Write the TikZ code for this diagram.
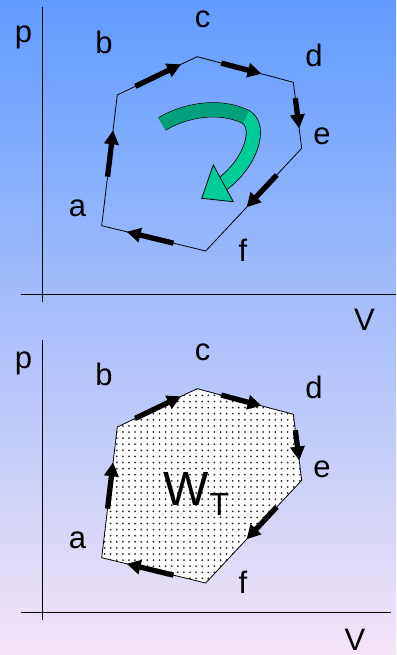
\documentclass[tikz,border=0pt]{standalone}
\usepackage{fontspec}
\setmainfont{Liberation Sans}
\usetikzlibrary{arrows.meta,calc}
\definecolor{skytop}{RGB}{96,156,255}
\definecolor{skymid}{RGB}{155,200,247}
\definecolor{skybot}{RGB}{244,228,246}
\definecolor{ribbon}{RGB}{0,204,153}
\definecolor{ribbondark}{RGB}{0,160,122}
\definecolor{dotgrey}{RGB}{40,40,40}
\tikzset{
  lbl/.style={anchor=base, inner sep=0pt, font=\fontsize{31}{31}\selectfont},
  axis/.style={line width=1.2pt},
  cycleline/.style={line width=0.8pt, line join=miter},
  flow/.style={line width=5.3pt, -{Triangle[length=14pt,width=14pt]}}
}

\begin{document}
\begin{tikzpicture}[x=1pt,y=-1pt]
  \useasboundingbox (0,0) rectangle (396,655);
  \shade[top color=skytop, middle color=skymid, bottom color=skybot]
    (0,0) rectangle (396,655);
  \foreach \pre/\dy in {u/0, l/332} {
    \begin{scope}[shift={(0,\dy)}]
      \coordinate (\pre-a) at (101.7,225.7);
      \coordinate (\pre-b) at (117.3,95);
      \coordinate (\pre-c1) at (181.7,64);
      \coordinate (\pre-c2) at (197.3,56.7);
      \coordinate (\pre-d) at (293.3,82.3);
      \coordinate (\pre-e) at (301.7,148.3);
      \coordinate (\pre-f) at (205.7,251);
    \end{scope}
  }
  \begin{scope}
    \clip (l-a) -- (l-b) -- (l-c1) -- (l-c2) -- (l-d) -- (l-e) -- (l-f) -- cycle;
    \fill[white] (90,380) rectangle (310,590);
    \foreach \x in {98.5,104.6,...,306}
      \foreach \y in {389.3,395.4,...,586}
        \fill[dotgrey] (\x,\y) circle (1.0);
  \end{scope}
  \foreach \pre/\dy/\ay/\atop/\abot/\ax/\py/\vx/\vy in {%
    u/0/294.3/6.7/302/396/43/364.5/330,
    l/332/612.3/340/620/391/368/355/650.5} {
    \draw[axis] (42.3,\atop) -- (42.3,\abot);
    \draw[axis] (21,\ay) -- (\ax,\ay);
    \node[lbl] (\pre-p) at (23.5,\py) {p};
    \node[lbl] (\pre-V) at (\vx,\vy) {V};
    \draw[cycleline] (\pre-a) -- (\pre-b) -- (\pre-c1) -- (\pre-c2) -- (\pre-d)
      -- (\pre-e) -- (\pre-f) -- cycle;
    \foreach \s/\t/\from/\to in {a/b/0.375/0.73, b/c1/0.28/0.99, c2/d/0.25/0.67,
      d/e/0.24/0.70, e/f/0.26/0.575, f/a/0.31/0.76}
      \draw[flow] ($(\pre-\s)!\from!(\pre-\t)$) -- ($(\pre-\s)!\to!(\pre-\t)$);
    \begin{scope}[shift={(0,\dy)}]
      \node[lbl] (\pre-la) at (77.5,216) {a};
      \node[lbl] (\pre-lb) at (104,53.3) {b};
      \node[lbl] (\pre-lc) at (202.5,28) {c};
      \node[lbl] (\pre-ld) at (314,66.7) {d};
      \node[lbl] (\pre-le) at (322,145) {e};
      \node[lbl] (\pre-lf) at (243,261.7) {f};
    \end{scope}
  }
  \coordinate (g0) at (162,124);
  \coordinate (g1) at (246,117);
  \coordinate (g2) at (221.8,184.6);
  \coordinate (gtip) at (201.7,198.3);
  \coordinate (gl) at (213.3,165);
  \coordinate (gr) at (233.3,201.7);
  \draw[line width=15pt] (g0) .. controls (185,110) and (220,104) .. (g1)
    .. controls (262,127) and (251,163) .. (g2);
  \draw[line width=13.4pt, ribbon] (g0) .. controls (185,110) and (220,104) .. (g1)
    .. controls (262,127) and (251,163) .. (g2);
  \draw[line width=13.4pt, ribbondark] (g0) .. controls (185,110) and (220,104) .. (g1);
  \filldraw[fill=ribbon, draw=black, line width=0.8pt, line join=miter]
    (gl) -- (gtip) -- (gr) -- cycle;
  \node[anchor=base, inner sep=0pt, font=\fontsize{48}{48}\selectfont] (wt) at (185.8,505) {W};
  \node[anchor=base, inner sep=0pt, font=\fontsize{32}{32}\selectfont] (wtsub) at (219.5,515) {T};
\end{tikzpicture}
\end{document}
